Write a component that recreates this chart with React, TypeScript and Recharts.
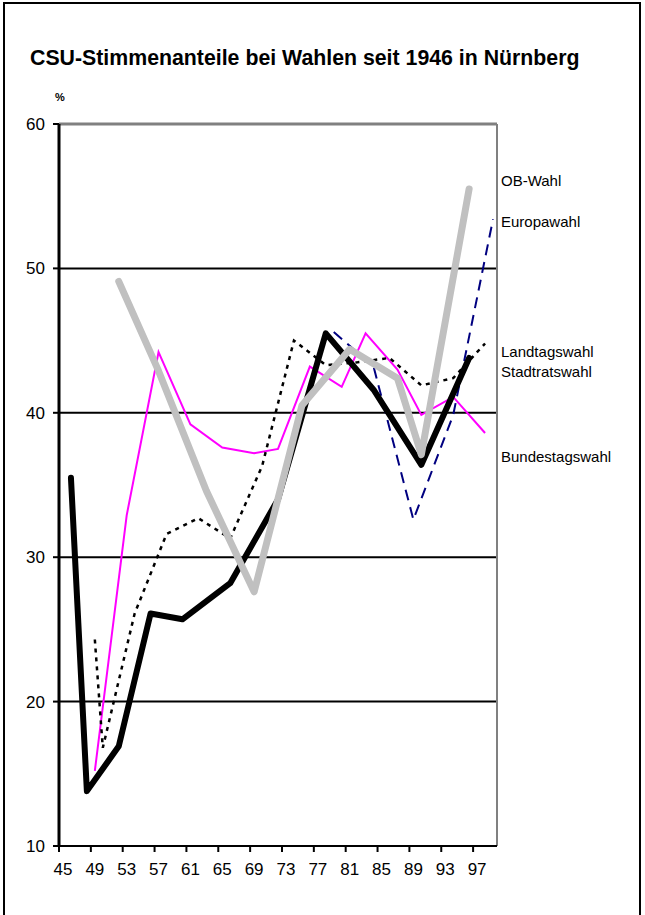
import React from 'react';
import { LineChart, Line, XAxis, YAxis, ReferenceLine } from 'recharts';

// CSU-Stimmenanteile in Nürnberg (%)
const stadtratYears = [1946, 1948, 1952, 1956, 1960, 1966, 1972, 1978, 1984, 1990, 1996];
const stadtratValues = [35.5, 13.8, 16.9, 26.1, 25.7, 28.2, 34.0, 45.5, 41.6, 36.4, 43.8];

const bundestagYears = [1949, 1953, 1957, 1961, 1965, 1969, 1972, 1976, 1980, 1983, 1987, 1990, 1994, 1998];
const bundestagValues = [15.2, 32.9, 44.2, 39.2, 37.6, 37.2, 37.5, 43.2, 41.8, 45.5, 43.0, 39.85, 41.1, 38.6];

const landtagYears = [1949, 1950, 1954, 1958, 1962, 1966, 1970, 1974, 1978, 1982, 1986, 1990, 1994, 1998];
const landtagValues = [24.3, 16.8, 26.1, 31.6, 32.7, 31.3, 36.3, 45.0, 43.3, 43.5, 43.8, 41.9, 42.4, 44.8];

const obYears = [1952, 1957, 1963, 1969, 1975, 1981, 1987, 1990, 1996];
const obValues = [49.1, 42.9, 34.6, 27.6, 40.5, 44.4, 42.4, 37.1, 55.5];

const europaYears = [1979, 1984, 1989, 1994, 1999];
const europaValues = [45.6, 43.2, 32.6, 39.85, 53.4];

const xTicks = [1944.5, 1948.5, 1952.5, 1956.5, 1960.5, 1964.5, 1968.5, 1972.5, 1976.5, 1980.5, 1984.5, 1988.5, 1992.5, 1996.5];
const yTicks = [10, 20, 30, 40, 50, 60];
const gridValues = [20, 30, 40, 50];

const seriesLabels = [
  { text: 'OB-Wahl', y: 186 },
  { text: 'Europawahl', y: 227 },
  { text: 'Landtagswahl', y: 357 },
  { text: 'Stadtratswahl', y: 377 },
  { text: 'Bundestagswahl', y: 462 },
];

const toRows = (years: number[], values: number[]) =>
  years.map((year, i) => ({ year, v: values[i] }));

const FONT = '"Liberation Sans", Arial, sans-serif';

const XTick = (props: any) => {
  const { x, y, payload } = props;
  const label = String(Math.round(payload.value + 0.5) % 100);
  return (
    <text x={x + 4} y={y} dy="0.71em" textAnchor="middle" fill="#000" fontSize={17} fontFamily={FONT}>
      {label}
    </text>
  );
};

export default function App() {
  return (
    <div style={{ position: 'absolute', left: 0, top: 0, width: 645, height: 915, overflow: 'hidden', background: '#fff', fontFamily: FONT }}>
      <div style={{ position: 'absolute', left: 3, top: 2, width: 634, height: 930, border: '2px solid #000' }} />
      <div style={{ position: 'absolute', left: 0, top: 0 }}>
        <LineChart width={645} height={915} margin={{ top: 124, right: 148, bottom: 29, left: 9 }}>
          <XAxis
            dataKey="year"
            type="number"
            domain={[1944.5, 1999.5]}
            ticks={xTicks}
            interval={0}
            allowDataOverflow
            height={40}
            axisLine={{ stroke: '#000', strokeWidth: 2 }}
            tickLine={{ stroke: '#000', strokeWidth: 2 }}
            tickSize={6}
            tickMargin={11}
            tick={<XTick />}
          />
          <YAxis
            type="number"
            domain={[10, 60]}
            ticks={yTicks}
            interval={0}
            width={50}
            axisLine={{ stroke: '#000', strokeWidth: 3 }}
            tickLine={{ stroke: '#000', strokeWidth: 2 }}
            tickSize={6}
            tickMargin={8}
            tick={{ fill: '#000', fontSize: 17, fontFamily: FONT }}
          />
          {gridValues.map((g) => (
            <ReferenceLine key={g} y={g} stroke="#000" strokeWidth={2} />
          ))}
          <ReferenceLine y={60} stroke="#808080" strokeWidth={3} />
          <ReferenceLine x={1999.5} stroke="#808080" strokeWidth={2} />
          <Line data={toRows(bundestagYears, bundestagValues)} dataKey="v" type="linear" stroke="#ff00ff" strokeWidth={2} dot={false} isAnimationActive={false} />
          <Line data={toRows(landtagYears, landtagValues)} dataKey="v" type="linear" stroke="#000" strokeWidth={2.5} strokeDasharray="4 5" dot={false} isAnimationActive={false} />
          <Line data={toRows(europaYears, europaValues)} dataKey="v" type="linear" stroke="#000080" strokeWidth={2} strokeDasharray="11 7" dot={false} isAnimationActive={false} />
          <Line data={toRows(stadtratYears, stadtratValues)} dataKey="v" type="linear" stroke="#000" strokeWidth={6} strokeLinecap="round" strokeLinejoin="round" dot={false} isAnimationActive={false} />
          <Line data={toRows(obYears, obValues)} dataKey="v" type="linear" stroke="#c0c0c0" strokeWidth={7} strokeLinecap="round" strokeLinejoin="round" dot={false} isAnimationActive={false} />
        </LineChart>
      </div>
      <svg width={645} height={915} style={{ position: 'absolute', left: 0, top: 0, pointerEvents: 'none' }}>
        <text x={30} y={65} fontSize={21.3} fontWeight="bold" fontFamily={FONT} fill="#000">
          CSU-Stimmenanteile bei Wahlen seit 1946 in Nürnberg
        </text>
        <text x={55} y={101} fontSize={11} fontWeight="bold" fontFamily={FONT} fill="#000">
          %
        </text>
        {seriesLabels.map((s) => (
          <text key={s.text} x={501} y={s.y} fontSize={15} fontFamily={FONT} fill="#000">
            {s.text}
          </text>
        ))}
      </svg>
    </div>
  );
}
